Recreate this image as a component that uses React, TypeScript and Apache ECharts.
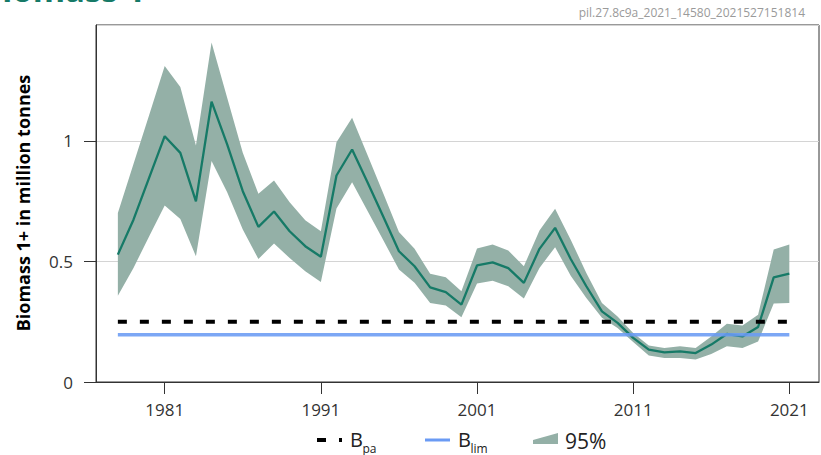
import React, { useEffect, useRef } from "react";
import * as echarts from "echarts";

const years = [
  1978, 1979, 1980, 1981, 1982, 1983, 1984, 1985, 1986, 1987, 1988, 1989, 1990,
  1991, 1992, 1993, 1994, 1995, 1996, 1997, 1998, 1999, 2000, 2001, 2002, 2003,
  2004, 2005, 2006, 2007, 2008, 2009, 2010, 2011, 2012, 2013, 2014, 2015, 2016,
  2017, 2018, 2019, 2020, 2021,
];

const biomass = [
  0.528, 0.673, 0.846, 1.019, 0.95, 0.749, 1.162, 0.985, 0.791, 0.643, 0.707,
  0.625, 0.563, 0.519, 0.856, 0.964, 0.826, 0.685, 0.542, 0.48, 0.392, 0.373,
  0.321, 0.483, 0.496, 0.472, 0.411, 0.552, 0.639, 0.51, 0.397, 0.293, 0.245,
  0.183, 0.134, 0.123, 0.127, 0.12, 0.155, 0.199, 0.189, 0.228, 0.434, 0.449,
];

const upper95 = [
  0.701, 0.904, 1.106, 1.31, 1.223, 0.98, 1.407, 1.178, 0.95, 0.78, 0.835,
  0.745, 0.671, 0.625, 0.994, 1.095, 0.939, 0.781, 0.622, 0.552, 0.449, 0.434,
  0.376, 0.553, 0.57, 0.545, 0.48, 0.628, 0.718, 0.59, 0.452, 0.328, 0.272,
  0.203, 0.151, 0.141, 0.148, 0.141, 0.189, 0.242, 0.234, 0.279, 0.549, 0.57,
];

const lower95 = [
  0.358, 0.473, 0.603, 0.732, 0.676, 0.521, 0.916, 0.787, 0.632, 0.51, 0.574,
  0.514, 0.459, 0.415, 0.719, 0.828, 0.708, 0.588, 0.466, 0.411, 0.328, 0.317,
  0.268, 0.408, 0.42, 0.397, 0.346, 0.473, 0.559, 0.44, 0.348, 0.266, 0.224,
  0.166, 0.11, 0.1, 0.1, 0.093, 0.116, 0.148, 0.141, 0.168, 0.325, 0.328,
];

const Bpa = 0.25;
const Blim = 0.196;

const xTickYears = [1981, 1991, 2001, 2011, 2021];

const TITLE = "Biomass 1+";
const SUBTITLE = "pil.27.8c9a_2021_14580_2021527151814";
const Y_NAME = "Biomass 1+ in million tonnes";
const LEG_B = "B";
const LEG_PA = "pa";
const LEG_LIM = "lim";
const LEG_CI = "95%";

const TEAL = "#167a67";
const BAND = "#94b0a7";
const BLUE = "#6a9bf4";
const FONT = "'Open Sans', 'Noto Sans', sans-serif";

export default function App() {
  const ref = useRef<HTMLDivElement>(null);

  useEffect(() => {
    if (!ref.current) return;
    const chart = echarts.init(ref.current, null, { renderer: "svg" });
    const first = years[0];
    const last = years[years.length - 1];

    const txt = (text: string, x: number, y: number, size: number, extra: any = {}) => ({
      type: "text",
      x,
      y,
      style: {
        text,
        fill: "#222",
        font: `${size}px ${FONT}`,
        align: "left",
        verticalAlign: "middle",
        ...extra,
      },
    });

    const option: any = {
      animation: false,
      textStyle: { fontFamily: FONT },
      graphic: [
        {
          type: "text",
          left: -20,
          top: -27,
          style: {
            text: TITLE,
            fill: TEAL,
            font: `bold 33px ${FONT}`,
          },
        },
        {
          type: "text",
          right: 16,
          top: 6,
          style: {
            text: SUBTITLE,
            fill: "#9a9a9a",
            font: `12px ${FONT}`,
          },
        },
        {
          type: "text",
          x: 22.5,
          y: 203,
          rotation: Math.PI / 2,
          style: {
            text: Y_NAME,
            fill: "#000",
            font: `bold 18px ${FONT}`,
            align: "center",
            verticalAlign: "middle",
          },
        },
        // legend: Bpa
        { type: "rect", shape: { x: 317, y: 438, width: 9, height: 4 }, style: { fill: "#000" } },
        { type: "rect", shape: { x: 339, y: 438, width: 3, height: 4 }, style: { fill: "#000" } },
        txt(LEG_B, 350, 439.5, 20),
        txt(LEG_PA, 362.5, 448, 12),
        // legend: Blim
        { type: "rect", shape: { x: 425, y: 438.5, width: 25, height: 3 }, style: { fill: BLUE } },
        txt(LEG_B, 458, 439.5, 20),
        txt(LEG_LIM, 470.5, 448, 12),
        // legend: 95%
        {
          type: "polygon",
          shape: { points: [[533, 440], [558, 433], [558, 444], [533, 444]] },
          style: { fill: BAND },
        },
        txt(LEG_CI, 565, 440.5, 21),
      ],
      grid: {
        left: 96,
        top: 25,
        right: 2,
        bottom: 73,
        show: true,
        borderColor: "#333",
        borderWidth: 1,
        containLabel: false,
      },
      xAxis: {
        type: "value",
        min: 1976.6,
        max: 2022.9,
        axisLine: { show: true, lineStyle: { color: "#333", width: 1 } },
        axisTick: {
          show: true,
          length: 12,
          customValues: xTickYears,
          lineStyle: { color: "#333" },
        },
        axisLabel: {
          customValues: xTickYears,
          fontSize: 17,
          color: "#333",
          margin: 19,
          fontFamily: FONT,
          formatter: (v: number) => String(v),
        },
        splitLine: { show: false },
      },
      yAxis: {
        type: "value",
        min: 0,
        max: 1.48,
        interval: 0.5,
        axisLine: { show: true, lineStyle: { color: "#333", width: 1 } },
        axisTick: { show: true, length: 12, lineStyle: { color: "#333" } },
        axisLabel: {
          fontSize: 17,
          color: "#333",
          margin: 23,
          fontFamily: FONT,
          showMaxLabel: false,
        },
        splitLine: { show: true, lineStyle: { color: "#d4d4d4", width: 1 } },
      },
      series: [
        {
          name: "95%",
          type: "custom",
          itemStyle: { color: BAND },
          data: years.map((y, i) => [y, lower95[i], upper95[i]]),
          encode: { x: 0, y: [1, 2] },
          z: 1,
          renderItem: (params: any, api: any) => {
            if (params.dataIndex !== 0) return null;
            const pts: number[][] = [];
            for (let i = 0; i < years.length; i++) {
              pts.push(api.coord([years[i], upper95[i]]));
            }
            for (let i = years.length - 1; i >= 0; i--) {
              pts.push(api.coord([years[i], lower95[i]]));
            }
            return {
              type: "polygon",
              shape: { points: pts },
              style: { fill: BAND },
              silent: true,
            };
          },
        },
        {
          name: "Biomass",
          type: "line",
          data: years.map((y, i) => [y, biomass[i]]),
          symbol: "none",
          lineStyle: { color: TEAL, width: 2.3 },
          itemStyle: { color: TEAL },
          z: 3,
        },
        {
          name: "Blim",
          type: "line",
          data: [
            [first, Blim],
            [last, Blim],
          ],
          symbol: "none",
          lineStyle: { color: BLUE, width: 3.5, opacity: 0.88 },
          itemStyle: { color: BLUE },
          z: 4,
        },
        {
          name: "Bpa",
          type: "line",
          data: [
            [first, Bpa],
            [last, Bpa],
          ],
          symbol: "none",
          lineStyle: { color: "#000", width: 4, type: [9, 13] },
          itemStyle: { color: "#000" },
          z: 5,
        },
      ],
    };

    chart.setOption(option);
    return () => chart.dispose();
  }, []);

  return (
    <div
      ref={ref}
      style={{ position: "absolute", left: 0, top: 0, width: 821, height: 455 }}
    />
  );
}
